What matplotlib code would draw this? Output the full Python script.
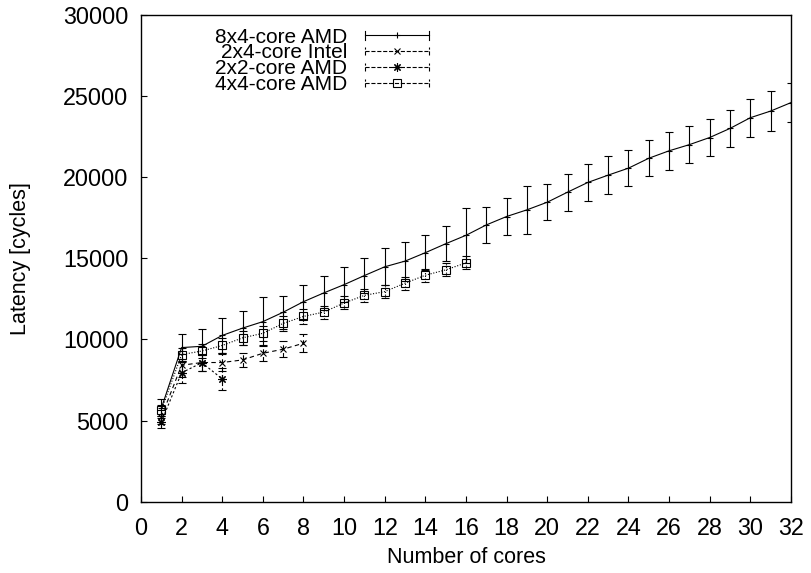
import numpy as np
import matplotlib
matplotlib.use('Agg')
import matplotlib.pyplot as plt
from matplotlib.lines import Line2D
from matplotlib.legend_handler import HandlerBase

plt.rcParams['font.family'] = ['Liberation Sans', 'DejaVu Sans']

# 8x4-core AMD
amd84_x = list(range(1, 33))
amd84_y = [5750, 9500, 9580, 10250, 10700, 11100, 11680, 12330, 12870, 13380,
           13940, 14480, 14830, 15350, 15900, 16420, 17060, 17580, 17990, 18460,
           19080, 19680, 20130, 20560, 21170, 21630, 22010, 22450, 23010, 23670,
           24080, 24600]
amd84_err = [600, 820, 1040, 1080, 1030, 1510, 1030, 1050, 1030, 1080,
             1090, 1130, 1200, 1090, 1080, 1700, 1110, 1130, 1460, 1120,
             1130, 1120, 1170, 1110, 1120, 1170, 1160, 1160, 1120, 1160,
             1250, 1200]

# 2x4-core Intel
intel_x = list(range(1, 9))
intel_y = [5220, 8410, 8580, 8580, 8740, 9150, 9400, 9770]
intel_err = [450, 700, 550, 550, 450, 500, 500, 550]

# 2x2-core AMD
amd22_x = [1, 2, 3, 4]
amd22_y = [4910, 7950, 8570, 7570]
amd22_err = [350, 650, 500, 700]

# 4x4-core AMD
amd44_x = list(range(1, 17))
amd44_y = [5630, 9070, 9290, 9630, 10100, 10380, 10990, 11420, 11690, 12250,
           12720, 12950, 13470, 13960, 14290, 14720]
amd44_err = [350, 400, 450, 450, 450, 450, 450, 450, 400, 400,
             400, 400, 400, 400, 400, 400]

series = [
    ('8x4-core AMD', amd84_x, amd84_y, amd84_err, '-', '+', 5),
    ('2x4-core Intel', intel_x, intel_y, intel_err, (0, (4, 3)), 'x', 4.5),
    ('2x2-core AMD', amd22_x, amd22_y, amd22_err, (0, (2, 2)), (8, 2, 0), 6),
    ('4x4-core AMD', amd44_x, amd44_y, amd44_err, (0, (1, 1.5)), 's', 6),
]


class GnuplotHandler(HandlerBase):
    # line with end caps and marker in the middle, like gnuplot keys
    def create_artists(self, legend, orig, xdescent, ydescent, width, height,
                       fontsize, trans):
        y = height / 2 - ydescent
        x0, x1 = -xdescent, width - xdescent
        ls = orig.get_linestyle()
        line = Line2D([x0, x1], [y, y], color='black', lw=0.8, linestyle=ls)
        mk = Line2D([(x0 + x1) / 2], [y], color='black', lw=0,
                    marker=orig.get_marker(), markersize=orig.get_markersize(),
                    markerfacecolor='none', markeredgecolor='black', markeredgewidth=0.8)
        c = 3
        capl = Line2D([x0, x0], [y - c, y + c], color='black', lw=0.8, linestyle=ls)
        capr = Line2D([x1, x1], [y - c, y + c], color='black', lw=0.8, linestyle=ls)
        arts = [line, mk, capl, capr]
        for a in arts:
            a.set_transform(trans)
        return arts


fig = plt.figure(figsize=(8.12, 5.73), dpi=100)
ax = fig.add_axes([0.1736, 0.1244, 0.8005, 0.8494])

handles = []
for label, xs, ys, errs, ls, mk, ms in series:
    eb = ax.errorbar(xs, ys, yerr=errs, color='black', lw=0.8, linestyle=ls,
                     marker=mk, markersize=ms, markerfacecolor='none',
                     markeredgewidth=0.8, capsize=2.8, capthick=0.8,
                     elinewidth=0.8)
    eb[2][0].set_linestyle(ls)
    handles.append(Line2D([], [], color='black', linestyle=ls, marker=mk,
                          markersize=ms, label=label))

ax.set_xlim(0, 32)
ax.set_ylim(0, 30000)
ax.set_xticks(np.arange(0, 33, 2))
ax.set_yticks(np.arange(0, 30001, 5000))
ax.tick_params(direction='in', length=4.5, width=0.8, labelsize=16.8)
ax.tick_params(axis='x', pad=11)
ax.tick_params(axis='y', pad=9)
for s in ax.spines.values():
    s.set_linewidth(1.0)

ax.set_xlabel('Number of cores', fontsize=15.5, labelpad=5)
ax.set_ylabel('Latency [cycles]', fontsize=15.5, labelpad=23)

leg = ax.legend(handles=handles, loc='upper right', bbox_to_anchor=(0.443, 0.974),
                markerfirst=False, frameon=False, fontsize=15,
                handlelength=3.07, handletextpad=0.86, labelspacing=-0.155,
                borderpad=0, borderaxespad=0,
                handler_map={Line2D: GnuplotHandler()})

fig.savefig('out.png', dpi=100)
